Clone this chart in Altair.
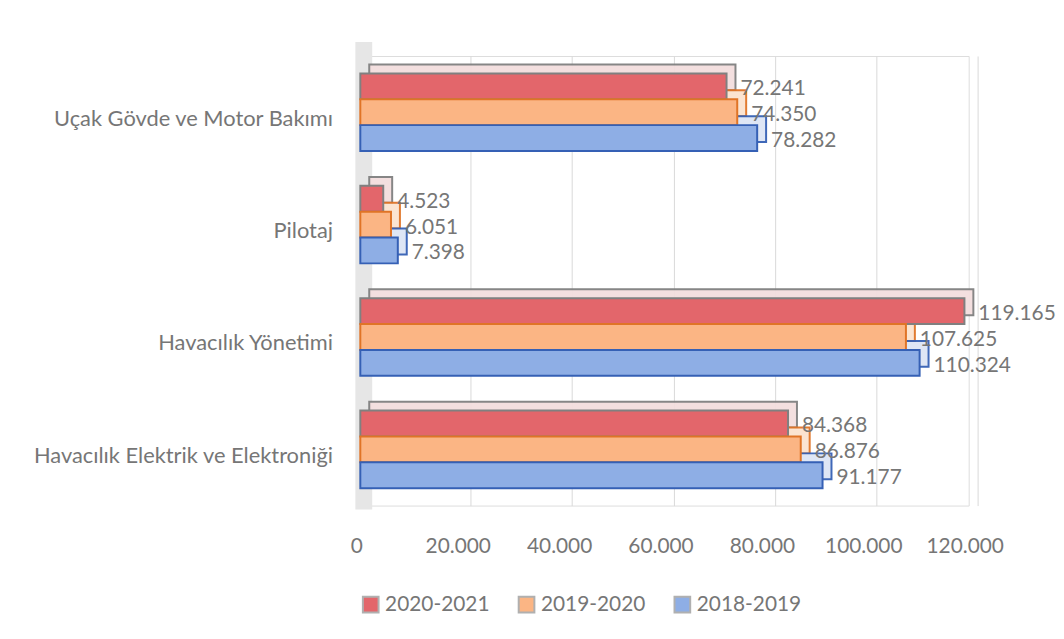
import json
import altair as alt
import pandas as pd

categories = ["Uçak Gövde ve Motor Bakımı", "Pilotaj", "Havacılık Yönetimi",
              "Havacılık Elektrik ve Elektroniği"]
series = ["2020-2021", "2019-2020", "2018-2019"]
v_2020_2021 = [72241, 4523, 119165, 84368]
v_2019_2020 = [74350, 6051, 107625, 86876]
v_2018_2019 = [78282, 7398, 110324, 91177]
x_ticks = [0, 20000, 40000, 60000, 80000, 100000, 120000]

fills = ["#e3666b", "#fbb584", "#8eaee5"]
strokes = ["#808080", "#e07426", "#3560b5"]
back_fills = ["#f3dede", "#fbe3cf", "#dde5f5"]

values_by_series = [v_2020_2021, v_2019_2020, v_2018_2019]
group_pad = 0.155
bar_h = 0.23
rows = []
for gi, cat in enumerate(categories):
    for si, s in enumerate(series):
        v = values_by_series[si][gi]
        y0 = gi + group_pad + si * bar_h
        rows.append({
            "category": cat, "series": s, "value": v,
            "y0": y0, "y1": y0 + bar_h, "yc": y0 + bar_h / 2,
            "label": f"{v:,}".replace(",", "."),
        })
df = pd.DataFrame(rows)

FONT = "Lato"
GRAY = "#767676"
W, H = 613, 453

xscale = alt.Scale(domain=[0, 120000], nice=False, zero=True)
yscale = alt.Scale(domain=[0, len(categories)], reverse=True, nice=False, zero=False)

label_expr = json.dumps(categories, ensure_ascii=False) + "[floor(datum.value)]"
x_axis = alt.Axis(values=x_ticks, grid=True, gridColor="#d9d9d9", gridWidth=1,
                  domain=False, ticks=False, tickOffset=9, labelOffset=-13,
                  labelPadding=30, labelOverlap=False, labelFlush=False,
                  labelFontSize=21, labelColor=GRAY, labelFont=FONT,
                  labelExpr="replace(format(datum.value, ',d'), ',', '.')",
                  title=None)
y_axis = alt.Axis(values=[i + 0.5 for i in range(len(categories))],
                  labelExpr=label_expr, domain=False, ticks=False, grid=False,
                  labelPadding=28, labelLimit=0, labelFontSize=22, labelColor=GRAY,
                  labelFont=FONT, labelOffset=6, title=None)

base = alt.Chart(df)

wall = alt.Chart(pd.DataFrame({"a": [0]})).mark_rect(
    color="#e6e6e6", xOffset=-5, x2Offset=12, yOffset=-14, y2Offset=4
).encode(
    x=alt.datum(0, scale=xscale, axis=x_axis),
    x2=alt.datum(0),
    y=alt.datum(0, scale=yscale, axis=y_axis),
    y2=alt.datum(len(categories)),
)

legend = alt.Legend(
    title=None, orient="bottom", direction="horizontal", offset=38,
    symbolType="square", symbolSize=250,
    symbolStrokeWidth=2, symbolStrokeColor="#b0b0b0", labelFontSize=21,
    labelColor=GRAY, labelFont=FONT, columnPadding=24,
)

back = base.mark_rect(xOffset=9, x2Offset=9, yOffset=-9, y2Offset=-9,
                      strokeWidth=2, opacity=0.95).encode(
    x=alt.X("value:Q", scale=xscale),
    x2=alt.datum(0),
    y=alt.Y("y0:Q", scale=yscale),
    y2="y1:Q",
    fill=alt.Fill("series:N", scale=alt.Scale(domain=series, range=back_fills), legend=None),
    stroke=alt.Stroke("series:N", scale=alt.Scale(domain=series, range=strokes), legend=None),
)

front = base.mark_rect(strokeWidth=2).encode(
    x=alt.X("value:Q", scale=xscale),
    x2=alt.datum(0),
    y=alt.Y("y0:Q", scale=yscale),
    y2="y1:Q",
    color=alt.Color("series:N", scale=alt.Scale(domain=series, range=fills),
                    legend=legend),
    stroke=alt.Stroke("series:N", scale=alt.Scale(domain=series, range=strokes), legend=None),
)

labels = base.mark_text(align="left", baseline="middle", dx=14, dy=3,
                        fontSize=21, font=FONT, color=GRAY).encode(
    x=alt.X("value:Q", scale=xscale),
    y=alt.Y("yc:Q", scale=yscale),
    text="label:N",
)

chart = alt.layer(wall, back, front, labels).resolve_scale(
    fill="independent", stroke="independent"
).properties(
    width=W, height=H,
    autosize=alt.AutoSizeParams(type="none"),
    padding={"left": 355, "top": 46, "right": 88, "bottom": 124},
).configure_view(stroke=None).configure(background="white")

chart.save("out.html", embed_options={"renderer": "svg", "actions": False})
